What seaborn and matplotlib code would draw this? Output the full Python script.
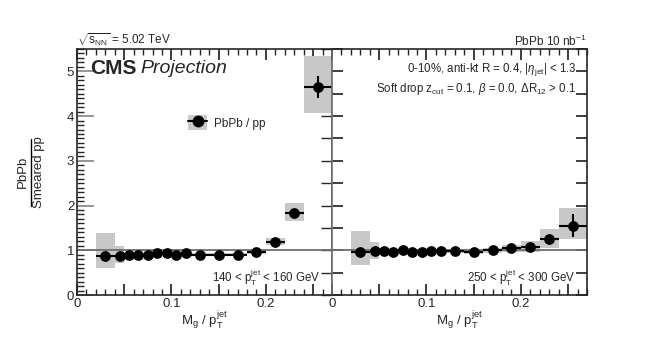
import numpy as np
import pandas as pd
import matplotlib
matplotlib.use("Agg")
import matplotlib.pyplot as plt
import seaborn as sns
from matplotlib.patches import Patch
from matplotlib.lines import Line2D
from matplotlib.legend_handler import HandlerTuple
from matplotlib.ticker import MultipleLocator

# bins in Mg / pT
bin_lo = [0.02, 0.04, 0.05, 0.06, 0.07, 0.08, 0.09, 0.10, 0.11, 0.12, 0.14, 0.16, 0.18, 0.20, 0.22, 0.24]
bin_hi = [0.04, 0.05, 0.06, 0.07, 0.08, 0.09, 0.10, 0.11, 0.12, 0.14, 0.16, 0.18, 0.20, 0.22, 0.24, 0.27]
x_pts = [0.03, 0.045, 0.055, 0.065, 0.075, 0.085, 0.095, 0.105, 0.115, 0.13, 0.15, 0.17, 0.19, 0.21, 0.23, 0.255]

# 140 < pT < 160 GeV
ratio_140 = [0.88, 0.87, 0.90, 0.90, 0.90, 0.93, 0.93, 0.90, 0.95, 0.90, 0.90, 0.90, 0.96, 1.19, 1.84, 4.65]
stat_140 = [0.02, 0.02, 0.02, 0.02, 0.02, 0.02, 0.02, 0.02, 0.02, 0.02, 0.02, 0.02, 0.03, 0.04, 0.05, 0.25]
sys_lo_140 = [0.60, 0.72, 0.86, 0.86, 0.86, 0.89, 0.89, 0.86, 0.91, 0.87, 0.87, 0.87, 0.92, 1.12, 1.65, 4.07]
sys_hi_140 = [1.38, 1.10, 0.94, 0.94, 0.94, 0.97, 0.97, 0.94, 0.99, 0.93, 0.93, 0.94, 1.01, 1.27, 2.05, 5.35]

# 250 < pT < 300 GeV
ratio_250 = [0.96, 0.98, 0.99, 0.97, 1.01, 0.97, 0.97, 0.98, 0.98, 0.98, 0.96, 1.00, 1.04, 1.08, 1.25, 1.55]
stat_250 = [0.02, 0.02, 0.02, 0.02, 0.02, 0.02, 0.02, 0.02, 0.02, 0.02, 0.02, 0.02, 0.03, 0.04, 0.06, 0.26]
sys_lo_250 = [0.68, 0.81, 0.93, 0.93, 0.96, 0.93, 0.93, 0.94, 0.94, 0.94, 0.92, 0.95, 0.96, 0.97, 1.04, 1.25]
sys_hi_250 = [1.43, 1.19, 1.04, 1.02, 1.05, 1.01, 1.01, 1.02, 1.02, 1.02, 1.00, 1.05, 1.12, 1.20, 1.47, 1.95]

x_ticks = [0, 0.05, 0.1, 0.15, 0.2, 0.25]
x_ticklabels = ["0", "", "0.1", "", "0.2", ""]

sns.set_theme(style="ticks")
plt.rcParams['font.family'] = ['Liberation Sans', 'DejaVu Sans']
plt.rcParams['mathtext.fontset'] = 'custom'
plt.rcParams['mathtext.rm'] = 'Liberation Sans'
plt.rcParams['mathtext.it'] = 'Liberation Sans:italic'
plt.rcParams['mathtext.bf'] = 'Liberation Sans:bold'

fig = plt.figure(figsize=(6.64, 3.45), dpi=100)
ax1 = fig.add_axes([77 / 664, 50 / 345, 255 / 664, 246 / 345])
ax2 = fig.add_axes([332 / 664, 50 / 345, 255 / 664, 246 / 345])

box_col = "#c8c8c8"
line_col = "#6e6e6e"
panels = [
    (ax1, ratio_140, stat_140, sys_lo_140, sys_hi_140, r"140 < p$_{\mathrm{T}}^{\mathrm{jet}}$ < 160 GeV"),
    (ax2, ratio_250, stat_250, sys_lo_250, sys_hi_250, r"250 < p$_{\mathrm{T}}^{\mathrm{jet}}$ < 300 GeV"),
]

for ax, ratio, stat, slo, shi, label in panels:
    df = pd.DataFrame({"x": x_pts, "ratio": ratio, "stat": stat,
                       "lo": bin_lo, "hi": bin_hi, "slo": slo, "shi": shi})
    # systematic boxes
    ax.bar(df["lo"], df["shi"] - df["slo"], bottom=df["slo"], width=df["hi"] - df["lo"],
           align="edge", color=box_col, edgecolor="none", zorder=1)
    ax.axhline(1.0, color=line_col, lw=1.3, zorder=2)
    # bin widths + stat errors
    ax.errorbar(df["x"], df["ratio"], yerr=df["stat"],
                xerr=[df["x"] - df["lo"], df["hi"] - df["x"]],
                fmt="none", ecolor="black", elinewidth=1.5, capsize=0, zorder=3)
    sns.scatterplot(data=df, x="x", y="ratio", ax=ax, color="black", s=60,
                    edgecolor="black", linewidth=0, zorder=4, legend=False)
    ax.set_xlim(0, 0.27)
    ax.set_ylim(0, 5.5)
    ax.set_xlabel(r"M$_{\mathrm{g}}$ / p$_{\mathrm{T}}^{\mathrm{jet}}$", fontsize=9.5, labelpad=0)
    ax.set_ylabel("")
    ax.set_xticks(x_ticks)
    ax.set_xticklabels(x_ticklabels)
    ax.xaxis.set_minor_locator(MultipleLocator(0.01))
    ax.tick_params(axis="x", which="major", direction="in", length=8, top=True, labelsize=9.5, pad=2)
    ax.tick_params(axis="x", which="minor", direction="in", length=4, top=True)
    ax.text(0.953, 0.07, label, transform=ax.transAxes, ha="right", va="center", fontsize=8.3)
    for s in ax.spines.values():
        s.set_linewidth(1.2)

# y axes: labelled on the left panel only, 0.5 steps on the inner/outer borders
ax1.yaxis.set_major_locator(MultipleLocator(1))
ax1.yaxis.set_minor_locator(MultipleLocator(0.1))
ax1.tick_params(axis="y", which="major", direction="in", length=12, right=False, labelsize=9.5, pad=2)
ax1.tick_params(axis="y", which="minor", direction="in", length=5, right=False)
ax1.tick_params(axis="y", which="major", color="#888888")
ax1r = ax1.secondary_yaxis("right")
ax1r.yaxis.set_major_locator(MultipleLocator(0.5))
ax1r.tick_params(direction="in", length=8, labelright=False, width=1.0)
ax1r.spines["right"].set_color(line_col)

ax2.yaxis.set_major_locator(MultipleLocator(0.5))
ax2.tick_params(axis="y", which="major", direction="in", length=8, left=True, right=True,
                labelleft=False)
ax2.spines["left"].set_color(line_col)
ax1.spines["right"].set_color(line_col)

# y-axis title as a fraction
fig.text(23 / 664, 1 - 172 / 345, "PbPb", rotation=90, ha="center", va="center", fontsize=9.5)
fig.text(39 / 664, 1 - 172 / 345, "Smeared pp", rotation=90, ha="center", va="center", fontsize=9.5)
fig.add_artist(Line2D([30.5 / 664, 30.5 / 664], [1 - 139 / 345, 1 - 206 / 345],
                      transform=fig.transFigure, color="black", lw=1.0))

ax1.text(0.05, 0.92, "CMS", transform=ax1.transAxes, fontsize=15, fontweight="bold", va="center")
ax1.text(0.25, 0.92, "Projection", transform=ax1.transAxes, fontsize=14, style="italic", va="center")

handle = (Patch(facecolor=box_col, edgecolor="none"),
          Line2D([], [], color="black", marker="o", markersize=7.5, lw=1.5))
ax1.legend([handle], ["PbPb / pp"], handler_map={tuple: HandlerTuple(ndivide=1, pad=0)},
           loc="center left", bbox_to_anchor=(0.395, 0.70), frameon=False, fontsize=8.5,
           handlelength=1.6, handleheight=1.6, handletextpad=0.6)

ax2.text(0.96, 0.915, r"0-10%, anti-kt R = 0.4, |$\eta_{\mathrm{jet}}$| < 1.3",
         transform=ax2.transAxes, ha="right", va="center", fontsize=8.3)
ax2.text(0.96, 0.838, r"Soft drop z$_{\mathrm{cut}}$ = 0.1, $\beta$ = 0.0, $\Delta$R$_{12}$ > 0.1",
         transform=ax2.transAxes, ha="right", va="center", fontsize=8.3)

fig.text(77 / 664, 1 - 40 / 345, r"$\sqrt{\mathrm{s}_{\mathrm{NN}}}$ = 5.02 TeV", ha="left", va="center", fontsize=8.5)
fig.text(587 / 664, 1 - 41 / 345, r"PbPb 10 nb$^{-1}$", ha="right", va="center", fontsize=8.5)

fig.savefig("out.png", dpi=100)
